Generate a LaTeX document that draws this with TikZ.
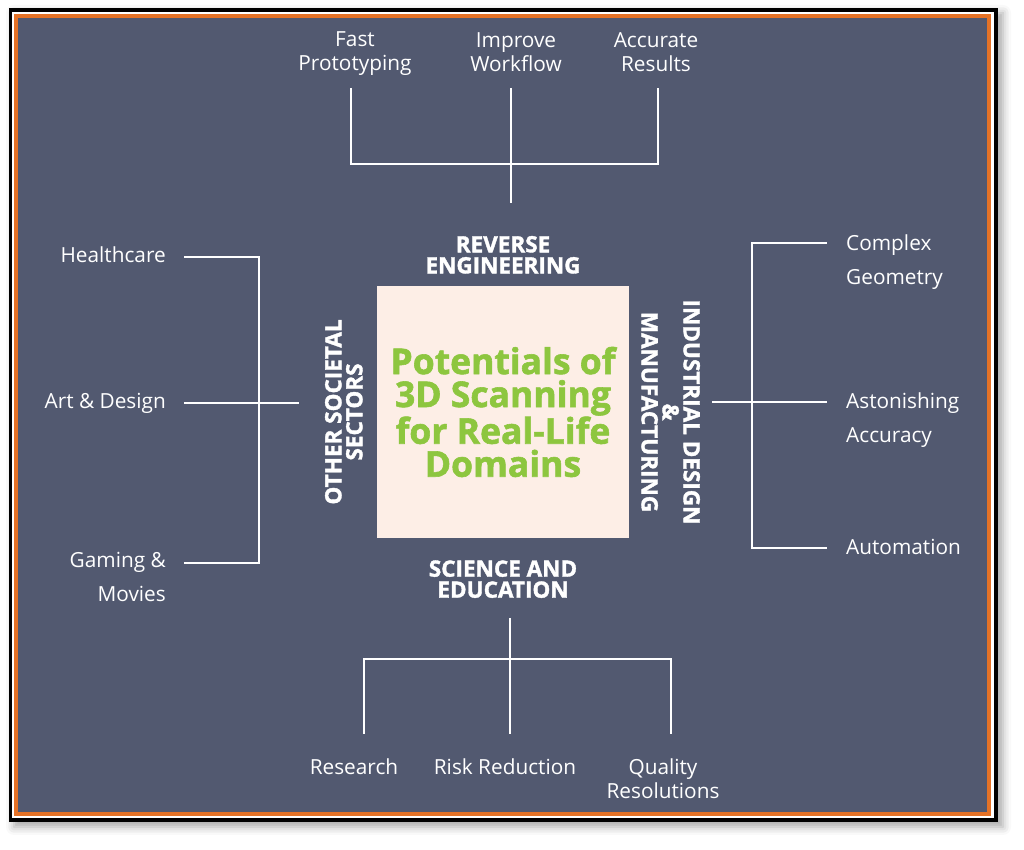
\documentclass[tikz,border=0pt]{standalone}
\usepackage{fontspec}
\setmainfont{Open Sans}
\newfontfamily\heavyfont{Open Sans}[BoldFeatures={FakeBold=1.6}]
\usetikzlibrary{positioning, shadows.blur}

\definecolor{slate}{RGB}{82,89,112}
\definecolor{frameorange}{RGB}{229,114,38}
\definecolor{peach}{RGB}{253,238,230}
\definecolor{leafgreen}{RGB}{141,198,63}

\begin{document}
\begin{tikzpicture}[
  x=1pt, y=1pt,
  node distance=12pt and 14pt,
  item/.style={text=white, inner sep=0pt, align=center, font=\fontsize{20.8}{24}\selectfont},
  wideitem/.style={item, font=\fontsize{20.8}{34}\selectfont},
  sectorhead/.style={text=white, inner sep=0pt, align=center, font=\heavyfont\bfseries\fontsize{22.5}{21}\selectfont},
  hubbox/.style={fill=peach, minimum width=252pt, minimum height=252pt, align=center, text=leafgreen, font=\heavyfont\bfseries\fontsize{35.5}{33}\selectfont},
  link/.style={draw=white, line width=2pt}
]
\useasboundingbox (0,0) rectangle (1024,850);

% frame
\fill[black, blur shadow={shadow xshift=5pt, shadow yshift=-5pt, shadow blur radius=8pt, shadow opacity=35}] (9,28) rectangle (998,842);
\fill[white] (12,32) rectangle (994,838);
\fill[frameorange] (14,34) rectangle (991,836);
\fill[slate] (18,38) rectangle (987,832);

\node[hubbox] (hub) at (503,438) {Potentials of\\3D Scanning\\for Real-Life\\Domains};

\node[sectorhead, above=12pt of hub] (rev) {REVERSE\\ENGINEERING};
\node[sectorhead, below=22pt of hub] (sci) {SCIENCE AND\\EDUCATION};
\node[sectorhead, rotate=90, left=14pt of hub, anchor=south] (other) {OTHER SOCIETAL\\SECTORS};
\node[sectorhead, rotate=-90, right=12pt of hub, anchor=south] (ind) {INDUSTRIAL DESIGN\\\&\\MANUFACTURING};

% top
\node[item] (fast) at (355,796) {Fast\\Prototyping};
\node[item] (flow) at (516,798) {Improve\\Workflow};
\node[item] (acc) at (656,798) {Accurate\\Results};

\coordinate (fasttip) at (351,762);
\coordinate (flowtip) at (511,762);
\coordinate (acctip) at (658,762);
\coordinate (revjoin) at (511,647);
\draw[link] (fasttip) -- ++(0,-76) -| (acctip);
\draw[link] (flowtip) -- (revjoin);

% bottom
\node[item] (research) at (354,83) {Research};
\node[item] (risk) at (505,83) {Risk Reduction};
\node[item] (quality) at (663,71) {Quality\\Resolutions};

\coordinate (scijoin) at (510,232);
\coordinate (researchtip) at (364,116);
\coordinate (risktip) at (510,116);
\coordinate (qualitytip) at (671,116);
\draw[link] (researchtip) -- ++(0,75) -| (qualitytip);
\draw[link] (scijoin) -- (risktip);

% left
\node[wideitem, anchor=east, align=right] (health) at (166,595) {Healthcare};
\node[wideitem, anchor=east] (art) at (166,447) {Art \& Design};
\node[wideitem, anchor=east, align=right] (gaming) at (166,273) {Gaming \&\\Movies};

\coordinate (healthtip) at (184,593);
\coordinate (arttip) at (184,447);
\coordinate (gamingtip) at (184,287);
\coordinate (otherjoin) at (299,447);
\draw[link] (healthtip) -- ++(75,0) |- (gamingtip);
\draw[link] (arttip) -- (otherjoin);

% right
\node[wideitem, anchor=west, align=left] (complex) at (846,588) {Complex\\Geometry};
\node[wideitem, anchor=west, align=left] (astonish) at (846,430) {Astonishing\\Accuracy};
\node[wideitem, anchor=west] (auto) at (846,303) {Automation};

\coordinate (complextip) at (827,607);
\coordinate (astonishtip) at (827,448);
\coordinate (autotip) at (827,302);
\coordinate (indjoin) at (712,448);
\draw[link] (complextip) -- ++(-75,0) |- (autotip);
\draw[link] (indjoin) -- (astonishtip);
\end{tikzpicture}
\end{document}
